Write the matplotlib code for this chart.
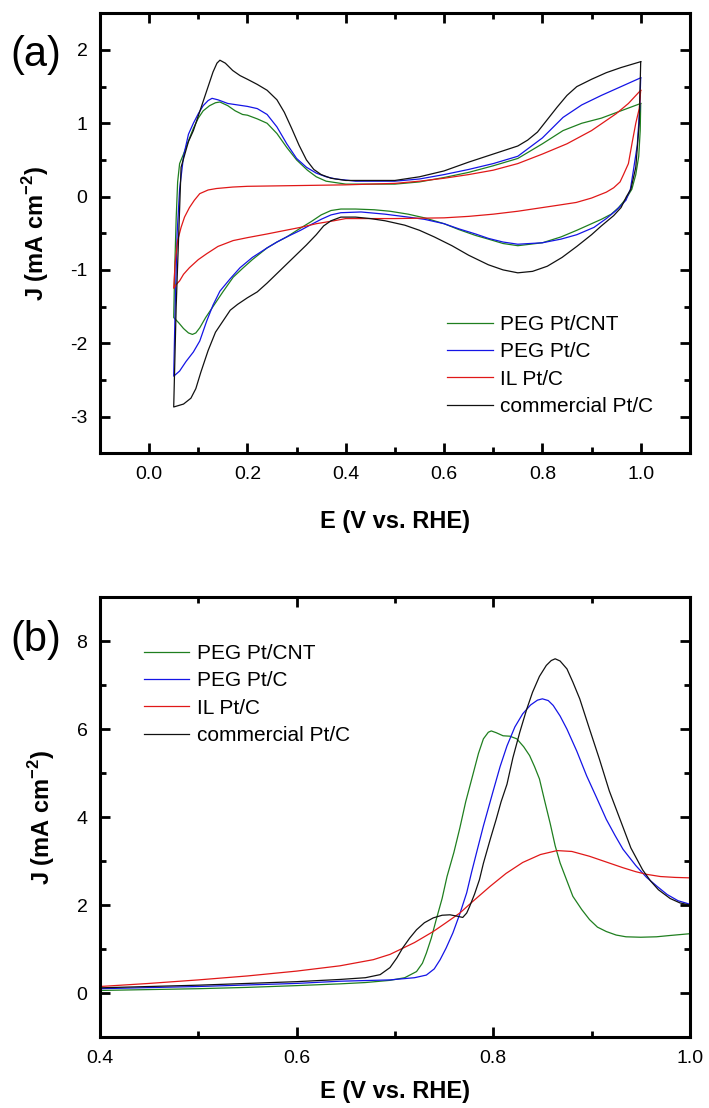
import matplotlib
matplotlib.use("Agg")
import matplotlib.pyplot as plt
from matplotlib.ticker import MultipleLocator

plt.rcParams['font.family'] = ['Liberation Sans', 'DejaVu Sans']
plt.rcParams['mathtext.fontset'] = 'custom'
plt.rcParams['mathtext.rm'] = 'Liberation Sans'
plt.rcParams['mathtext.bf'] = 'Liberation Sans:bold'
plt.rcParams['axes.unicode_minus'] = False

labels = ["PEG Pt/CNT", "PEG Pt/C", "IL Pt/C", "commercial Pt/C"]
colors = ["#1f7f1f", "#1414e6", "#e01818", "#111111"]

# ---------- (a) CV data: cathodic sweep (1.0 -> 0.05) then anodic sweep (0.05 -> 1.0)
cv_green_E = [1.0, 0.999, 0.996, 0.99, 0.982, 0.97, 0.955, 0.94, 0.92, 0.9, 0.87, 0.838, 0.8, 0.75, 0.72, 0.69, 0.664, 0.63, 0.6, 0.56, 0.527, 0.49, 0.458, 0.42, 0.39, 0.37, 0.35, 0.33, 0.308, 0.28, 0.26, 0.24, 0.21, 0.19, 0.171, 0.15, 0.13, 0.115, 0.103, 0.095, 0.088, 0.08, 0.07, 0.06, 0.05,
              0.05, 0.052, 0.055, 0.058, 0.062, 0.07, 0.08, 0.09, 0.1, 0.11, 0.123, 0.135, 0.144, 0.16, 0.175, 0.19, 0.2, 0.22, 0.24, 0.26, 0.28, 0.3, 0.322, 0.34, 0.36, 0.4, 0.5, 0.55, 0.6, 0.65, 0.7, 0.75, 0.8, 0.842, 0.88, 0.92, 0.96, 1.0]
cv_green_J = [1.27, 0.9, 0.55, 0.3, 0.1, -0.03, -0.15, -0.24, -0.31, -0.37, -0.46, -0.55, -0.63, -0.67, -0.64, -0.58, -0.53, -0.45, -0.37, -0.29, -0.24, -0.2, -0.18, -0.17, -0.17, -0.19, -0.25, -0.34, -0.43, -0.55, -0.62, -0.7, -0.86, -0.98, -1.1, -1.3, -1.5, -1.65, -1.79, -1.86, -1.88, -1.86, -1.8, -1.72, -1.65,
              -1.65, -1.0, -0.3, 0.2, 0.45, 0.58, 0.76, 0.93, 1.07, 1.17, 1.24, 1.28, 1.29, 1.24, 1.17, 1.12, 1.11, 1.06, 1.0, 0.86, 0.67, 0.5, 0.36, 0.27, 0.21, 0.17, 0.17, 0.2, 0.26, 0.33, 0.42, 0.52, 0.72, 0.9, 1.0, 1.07, 1.17, 1.27]

cv_blue_E = [1.0, 0.998, 0.993, 0.985, 0.979, 0.97, 0.95, 0.93, 0.905, 0.87, 0.838, 0.8, 0.75, 0.72, 0.69, 0.664, 0.63, 0.6, 0.56, 0.527, 0.48, 0.431, 0.39, 0.37, 0.35, 0.33, 0.308, 0.28, 0.26, 0.24, 0.21, 0.185, 0.165, 0.144, 0.13, 0.117, 0.103, 0.09, 0.075, 0.062, 0.05,
             0.05, 0.053, 0.057, 0.062, 0.07, 0.08, 0.09, 0.1, 0.11, 0.12, 0.128, 0.14, 0.16, 0.18, 0.2, 0.22, 0.24, 0.26, 0.28, 0.3, 0.32, 0.34, 0.36, 0.38, 0.42, 0.5, 0.55, 0.6, 0.65, 0.7, 0.75, 0.8, 0.842, 0.88, 0.92, 0.96, 1.0]
cv_blue_J = [1.62, 1.2, 0.7, 0.35, 0.1, -0.05, -0.19, -0.3, -0.42, -0.52, -0.58, -0.63, -0.65, -0.62, -0.57, -0.51, -0.44, -0.37, -0.31, -0.28, -0.24, -0.21, -0.22, -0.25, -0.31, -0.38, -0.46, -0.55, -0.62, -0.70, -0.83, -0.97, -1.12, -1.29, -1.48, -1.7, -1.97, -2.12, -2.25, -2.38, -2.45,
             -2.45, -1.5, -0.5, 0.1, 0.55, 0.85, 1.0, 1.13, 1.24, 1.31, 1.34, 1.32, 1.27, 1.25, 1.23, 1.2, 1.12, 0.95, 0.72, 0.52, 0.4, 0.32, 0.27, 0.24, 0.21, 0.21, 0.24, 0.3, 0.37, 0.45, 0.55, 0.8, 1.08, 1.25, 1.38, 1.5, 1.62]

cv_red_E = [1.0, 0.997, 0.99, 0.983, 0.975, 0.965, 0.958, 0.945, 0.93, 0.9, 0.869, 0.83, 0.8, 0.75, 0.7, 0.65, 0.6, 0.5, 0.45, 0.4, 0.376, 0.34, 0.308, 0.27, 0.24, 0.2, 0.171, 0.14, 0.117, 0.1, 0.082, 0.07, 0.062, 0.055, 0.05,
            0.05, 0.053, 0.058, 0.065, 0.072, 0.082, 0.092, 0.103, 0.12, 0.137, 0.17, 0.2, 0.3, 0.4, 0.5, 0.55, 0.6, 0.65, 0.7, 0.75, 0.8, 0.85, 0.9, 0.95, 0.975, 1.0]
cv_red_J = [1.45, 1.2, 1.0, 0.75, 0.45, 0.3, 0.2, 0.12, 0.06, -0.02, -0.08, -0.12, -0.15, -0.2, -0.24, -0.27, -0.29, -0.30, -0.3, -0.3, -0.33, -0.37, -0.42, -0.47, -0.51, -0.56, -0.6, -0.68, -0.78, -0.86, -0.97, -1.06, -1.15, -1.2, -1.25,
            -1.25, -0.9, -0.6, -0.42, -0.28, -0.15, -0.05, 0.04, 0.09, 0.11, 0.13, 0.14, 0.15, 0.16, 0.18, 0.21, 0.25, 0.3, 0.36, 0.45, 0.58, 0.72, 0.9, 1.13, 1.27, 1.45]

cv_black_E = [1.0, 0.997, 0.99, 0.98, 0.971, 0.96, 0.945, 0.92, 0.9, 0.87, 0.84, 0.81, 0.78, 0.75, 0.72, 0.69, 0.65, 0.616, 0.58, 0.55, 0.52, 0.48, 0.45, 0.42, 0.39, 0.37, 0.355, 0.34, 0.32, 0.3, 0.28, 0.26, 0.24, 0.22, 0.2, 0.18, 0.165, 0.15, 0.135, 0.12, 0.105, 0.095, 0.085, 0.07, 0.055, 0.05,
              0.05, 0.055, 0.065, 0.08, 0.09, 0.1, 0.11, 0.12, 0.13, 0.138, 0.144, 0.155, 0.17, 0.185, 0.2, 0.22, 0.24, 0.26, 0.275, 0.29, 0.305, 0.32, 0.335, 0.35, 0.37, 0.4, 0.5, 0.55, 0.6, 0.65, 0.7, 0.75, 0.77, 0.79, 0.81, 0.83, 0.85, 0.87, 0.9, 0.93, 0.96, 1.0]
cv_black_J = [1.84, 1.0, 0.4, 0.1, 0.0, -0.15, -0.26, -0.4, -0.52, -0.68, -0.83, -0.95, -1.02, -1.04, -1.0, -0.93, -0.8, -0.67, -0.55, -0.46, -0.39, -0.33, -0.3, -0.28, -0.28, -0.33, -0.4, -0.52, -0.66, -0.79, -0.92, -1.05, -1.18, -1.3, -1.38, -1.47, -1.55, -1.7, -1.85, -2.1, -2.4, -2.62, -2.75, -2.83, -2.86, -2.87,
              -2.87, -1.5, 0.4, 0.75, 0.9, 1.1, 1.3, 1.5, 1.7, 1.82, 1.86, 1.82, 1.72, 1.65, 1.6, 1.53, 1.45, 1.32, 1.15, 0.93, 0.7, 0.5, 0.37, 0.3, 0.25, 0.22, 0.22, 0.27, 0.35, 0.47, 0.58, 0.69, 0.77, 0.88, 1.05, 1.22, 1.38, 1.5, 1.6, 1.69, 1.76, 1.84]

# ---------- (b) linear sweep data
lsv_green_E = [0.4, 0.45, 0.5, 0.55, 0.6, 0.644, 0.67, 0.695, 0.71, 0.722, 0.728, 0.732, 0.737, 0.742, 0.748, 0.753, 0.76, 0.766, 0.772, 0.779, 0.785, 0.79, 0.795, 0.798, 0.803, 0.81, 0.817, 0.824, 0.831, 0.837, 0.842, 0.847, 0.852, 0.858, 0.863, 0.868, 0.875, 0.881, 0.89, 0.898, 0.906, 0.915, 0.925, 0.935, 0.95, 0.966, 0.98, 1.0]
lsv_green_J = [0.06, 0.08, 0.1, 0.13, 0.17, 0.21, 0.24, 0.29, 0.35, 0.49, 0.68, 0.91, 1.25, 1.67, 2.15, 2.65, 3.2, 3.75, 4.35, 4.94, 5.45, 5.78, 5.93, 5.96, 5.92, 5.85, 5.84, 5.78, 5.6, 5.4, 5.15, 4.87, 4.4, 3.85, 3.35, 2.96, 2.55, 2.2, 1.9, 1.67, 1.5, 1.4, 1.32, 1.28, 1.27, 1.28, 1.31, 1.35]

lsv_blue_E = [0.4, 0.5, 0.6, 0.644, 0.695, 0.72, 0.732, 0.74, 0.746, 0.752, 0.759, 0.766, 0.773, 0.778, 0.783, 0.79, 0.8, 0.807, 0.814, 0.822, 0.83, 0.838, 0.845, 0.85, 0.856, 0.861, 0.868, 0.875, 0.885, 0.895, 0.905, 0.915, 0.924, 0.932, 0.945, 0.956, 0.967, 0.977, 0.988, 1.0]
lsv_blue_J = [0.1, 0.15, 0.22, 0.27, 0.3, 0.35, 0.41, 0.55, 0.76, 1.02, 1.37, 1.8, 2.28, 2.75, 3.19, 3.8, 4.6, 5.15, 5.62, 6.05, 6.35, 6.55, 6.66, 6.69, 6.65, 6.54, 6.3, 6.0, 5.5, 4.94, 4.45, 3.95, 3.58, 3.27, 2.9, 2.63, 2.42, 2.24, 2.1, 2.02]

lsv_red_E = [0.4, 0.45, 0.5, 0.55, 0.6, 0.644, 0.678, 0.695, 0.708, 0.72, 0.739, 0.752, 0.766, 0.78, 0.797, 0.813, 0.83, 0.848, 0.865, 0.88, 0.898, 0.915, 0.932, 0.945, 0.956, 0.97, 0.985, 1.0]
lsv_red_J = [0.15, 0.22, 0.3, 0.39, 0.5, 0.62, 0.76, 0.88, 1.02, 1.15, 1.4, 1.6, 1.82, 2.1, 2.43, 2.72, 2.97, 3.15, 3.24, 3.22, 3.11, 2.98, 2.85, 2.76, 2.7, 2.65, 2.63, 2.62]

lsv_black_E = [0.4, 0.5, 0.6, 0.644, 0.67, 0.685, 0.695, 0.702, 0.708, 0.715, 0.722, 0.73, 0.739, 0.748, 0.756, 0.763, 0.769, 0.773, 0.776, 0.781, 0.786, 0.79, 0.797, 0.803, 0.808, 0.814, 0.82, 0.827, 0.834, 0.84, 0.847, 0.854, 0.859, 0.863, 0.868, 0.875, 0.881, 0.888, 0.898, 0.908, 0.918, 0.929, 0.94, 0.952, 0.96, 0.968, 0.98, 0.99, 1.0]
lsv_black_J = [0.12, 0.18, 0.26, 0.31, 0.35, 0.42, 0.58, 0.8, 1.03, 1.25, 1.44, 1.6, 1.71, 1.77, 1.78, 1.75, 1.72, 1.82, 1.97, 2.25, 2.58, 2.95, 3.5, 3.95, 4.35, 4.75, 5.35, 5.93, 6.45, 6.84, 7.2, 7.45, 7.56, 7.6, 7.55, 7.37, 7.07, 6.69, 6.0, 5.32, 4.6, 3.95, 3.3, 2.8, 2.55, 2.35, 2.15, 2.05, 2.0]

cv_E = [cv_green_E, cv_blue_E, cv_red_E, cv_black_E]
cv_J = [cv_green_J, cv_blue_J, cv_red_J, cv_black_J]
lsv_E = [lsv_green_E, lsv_blue_E, lsv_red_E, lsv_black_E]
lsv_J = [lsv_green_J, lsv_blue_J, lsv_red_J, lsv_black_J]

fig = plt.figure(figsize=(7.09, 11.08), dpi=100)
ax1 = fig.add_axes([0.141, 0.591, 0.832, 0.397])
ax2 = fig.add_axes([0.141, 0.064, 0.832, 0.397])

for E, J, c, lab in zip(cv_E, cv_J, colors, labels):
    ax1.plot(E, J, color=c, lw=0.9, label=lab)
for E, J, c, lab in zip(lsv_E, lsv_J, colors, labels):
    ax2.plot(E, J, color=c, lw=0.9, label=lab)

def style(ax):
    for s in ax.spines.values():
        s.set_linewidth(2.2)
    ax.tick_params(which='both', direction='in', top=True, right=True, width=2.0, labelsize=14, pad=9)
    ax.tick_params(which='major', length=7)
    ax.tick_params(which='minor', length=4)
    ax.set_xlabel("E (V vs. RHE)", fontsize=17, fontweight='bold', labelpad=20)
    ax.set_ylabel(r"J (mA cm$^{\mathbf{-2}}$)", fontsize=17, fontweight='bold', labelpad=14)

ax1.set_xlim(-0.1, 1.1)
ax1.set_ylim(-3.5, 2.5)
ax1.xaxis.set_major_locator(MultipleLocator(0.2))
ax1.xaxis.set_minor_locator(MultipleLocator(0.1))
ax1.yaxis.set_major_locator(MultipleLocator(1))
ax1.yaxis.set_minor_locator(MultipleLocator(0.5))
style(ax1)

ax2.set_xlim(0.4, 1.0)
ax2.set_ylim(-1, 9)
ax2.xaxis.set_major_locator(MultipleLocator(0.2))
ax2.xaxis.set_minor_locator(MultipleLocator(0.1))
ax2.yaxis.set_major_locator(MultipleLocator(2))
ax2.yaxis.set_minor_locator(MultipleLocator(1))
style(ax2)
ax2.set_xlabel("E (V vs. RHE)", fontsize=17, fontweight='bold', labelpad=10)

ax1.legend(loc='upper left', bbox_to_anchor=(0.588, 0.314), frameon=False, fontsize=15,
           handlelength=2.2, handletextpad=0.35, labelspacing=0.4, borderpad=0, borderaxespad=0)
ax2.legend(loc='upper left', bbox_to_anchor=(0.074, 0.894), frameon=False, fontsize=15,
           handlelength=2.2, handletextpad=0.35, labelspacing=0.4, borderpad=0, borderaxespad=0)

fig.text(36 / 709, 1 - 55 / 1108, "(a)", fontsize=30, ha='center', va='center')
fig.text(36 / 709, 1 - 640 / 1108, "(b)", fontsize=30, ha='center', va='center')

fig.savefig("out.png", dpi=100)
